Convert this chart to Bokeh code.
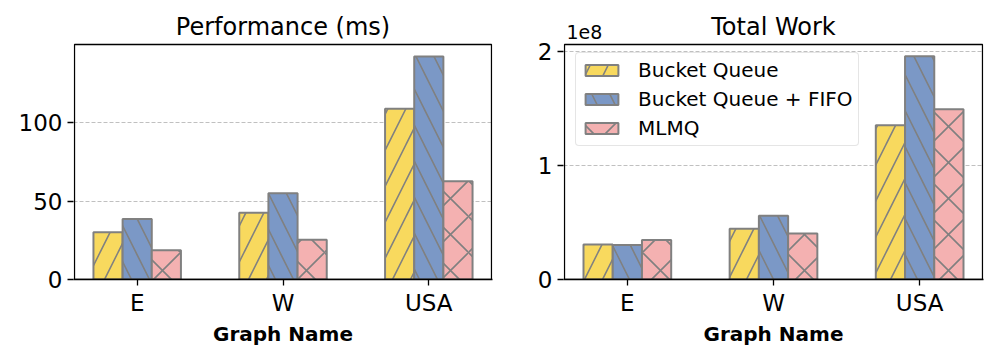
from bokeh.plotting import figure
from bokeh.models import (Range1d, FixedTicker, CustomJSTickFormatter, Legend,
                          LegendItem, Label, ColumnDataSource)
from bokeh.layouts import row
from bokeh.transform import dodge
from bokeh.embed import file_html
from bokeh.resources import INLINE

# ---- data ----
graphs = ["E", "W", "USA"]
series = ["Bucket Queue", "Bucket Queue + FIFO", "MLMQ"]
perf_bucket = [30.1, 42.5, 108.7]
perf_fifo = [38.6, 55.0, 142.0]
perf_mlmq = [18.7, 25.4, 62.6]
work_bucket = [3.07e7, 4.45e7, 1.351e8]
work_fifo = [3.02e7, 5.59e7, 1.956e8]
work_mlmq = [3.45e7, 4.04e7, 1.491e8]
perf_ticks = [0, 50, 100]
work_ticks = [0, 1e8, 2e8]

colors = ["#f8d95e", "#7b98c6", "#f4b1b1"]
hatches = ["right_diagonal_line", "left_diagonal_line", "diagonal_cross"]
offsets = [-0.2, 0.0, 0.2]
FONT = "DejaVu Sans"
EDGE = "#808080"
X0, X1 = -0.43, 2.43          # x extent of the axes box
BOX_H, FRAME_H = 235, 279     # axes box height / drawing frame height (px)


def make_fig(title, vals, ytop, ticks, width, bl, br, box_w, formatter=None,
             legend=False, offset_text=None):
    px = (X1 - X0) / box_w
    # the drawing frame reaches the top of the figure so that the title and the
    # offset text can be drawn as labels; the visible axes box is drawn as a quad
    p = figure(width=width, height=350, output_backend="svg", toolbar_location=None,
               title=None,
               x_range=Range1d(X0 - px, X1 + px),
               y_range=Range1d(0, ytop * FRAME_H / BOX_H),
               min_border_left=bl, min_border_right=br, min_border_top=0,
               min_border_bottom=71)
    p.outline_line_color = None

    src = ColumnDataSource(dict(x=list(range(len(graphs))),
                                s0=vals[0], s1=vals[1], s2=vals[2]))
    rends = []
    for i in range(3):
        r = p.vbar(x=dodge("x", offsets[i], range=p.x_range), top="s%d" % i, width=0.2,
                   source=src, fill_color=colors[i], line_color=EDGE, line_width=2,
                   hatch_pattern=hatches[i], hatch_color=EDGE, hatch_weight=1.6,
                   hatch_scale=36)
        rends.append(r)
    p.quad(left=X0, right=X1, bottom=0, top=ytop, fill_color=None,
           line_color="black", line_width=1.3)

    p.xgrid.visible = False
    p.ygrid.grid_line_color = "#b0b0b0"
    p.ygrid.grid_line_dash = "4 2"
    p.ygrid.grid_line_width = 0.8
    p.ygrid.ticker = FixedTicker(ticks=ticks)
    p.xaxis.ticker = FixedTicker(ticks=list(range(len(graphs))))
    p.xaxis.major_label_overrides = {i: g for i, g in enumerate(graphs)}
    p.yaxis.ticker = FixedTicker(ticks=ticks)
    if formatter is not None:
        p.yaxis.formatter = formatter
    for ax in (p.xaxis[0], p.yaxis[0]):
        ax.axis_line_color = "black"
        ax.axis_line_width = 1.3
        ax.major_tick_line_color = "black"
        ax.major_tick_line_width = 1.3
        ax.major_tick_in = 0
        ax.major_tick_out = 6
        ax.minor_tick_line_color = None
        ax.major_label_text_font = FONT
        ax.major_label_text_font_size = "23px"
        ax.major_label_text_color = "black"
        ax.major_label_standoff = 5
    p.yaxis.axis_line_color = None
    p.xaxis.major_label_standoff = 4
    p.xaxis.axis_label = "Graph Name"
    p.xaxis.axis_label_text_font = FONT
    p.xaxis.axis_label_text_font_size = "20px"
    p.xaxis.axis_label_text_font_style = "bold"
    p.xaxis.axis_label_text_color = "black"
    p.xaxis.axis_label_standoff = 3

    p.add_layout(Label(x=(X0 + X1) / 2, y=ytop, y_offset=18, text=title,
                       text_align="center", text_baseline="alphabetic", text_font=FONT,
                       text_font_size="24px", text_color="black"))
    if offset_text:
        p.add_layout(Label(x=X0, y=ytop, x_offset=2, y_offset=13, text=offset_text,
                           text_baseline="alphabetic", text_font=FONT,
                           text_font_size="19px", text_color="black"))
    if legend:
        lg = Legend(items=[LegendItem(label=series[i], renderers=[rends[i]]) for i in range(3)],
                    location=(12, 133), padding=5, spacing=5,
                    glyph_width=41, glyph_height=14, label_standoff=16, label_height=22,
                    label_text_font=FONT, label_text_font_size="20px",
                    label_text_color="black",
                    border_line_color="#cccccc", border_line_width=1,
                    background_fill_alpha=0.8)
        if "border_radius" in Legend.properties():
            lg.border_radius = 4
        p.add_layout(lg)
    return p


p1 = make_fig("Performance (ms)", [perf_bucket, perf_fifo, perf_mlmq], 149.7, perf_ticks,
              width=498, bl=73, br=6, box_w=417)
fmt = CustomJSTickFormatter(code="return (tick / 1e8).toFixed(0);")
p2 = make_fig("Total Work", [work_bucket, work_fifo, work_mlmq], 2.059e8, work_ticks,
              width=490, bl=65, br=5, box_w=418, formatter=fmt, legend=True,
              offset_text="1e8")

layout = row(p1, p2)
open("out.html", "w").write(file_html(layout, INLINE))
